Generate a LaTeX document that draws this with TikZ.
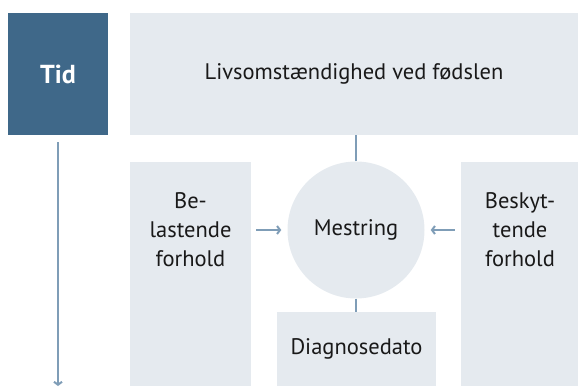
\documentclass[tikz,border=0pt]{standalone}
\usepackage{fontspec}
\setmainfont{PT Sans}
\usetikzlibrary{positioning, arrows.meta}

\definecolor{tidblue}{RGB}{63,104,137}
\definecolor{boxgray}{RGB}{229,234,239}
\definecolor{linkblue}{RGB}{127,157,183}

\begin{document}
\begin{tikzpicture}[
  x=1pt, y=-1pt,
  every node/.style={font=\fontsize{22.5}{29}\selectfont},
  panel/.style={fill=boxgray, draw=none, inner sep=0pt},
  txt/.style={align=center, text=black!90, inner sep=0pt},
  link/.style={draw=linkblue, line width=2pt},
  arr/.style={-{Straight Barb[length=3pt, width=8pt]}, draw=linkblue, line width=2pt}
]
\useasboundingbox (0,0) rectangle (578,387);

% ---- Time column ----
\node[fill=tidblue, minimum width=100pt, minimum height=122pt, inner sep=0pt,
      text=white, font=\fontsize{26}{30}\selectfont\bfseries] (tid) at (58,74) {Tid};
\coordinate (tidend) at (58,386);

% ---- Birth circumstances (top row) ----
\node[panel, txt, minimum width=448pt, minimum height=122pt] (birth) at (354,74)
  {Livsomstændighed ved fødslen};

% ---- Side panels ----
\node[panel, minimum width=121pt, minimum height=224pt] (belast) at (190.5,274) {};
\node[txt] (belastlbl) at (190.5,230) {Be-\\lastende\\forhold};
\node[panel, minimum width=117pt, minimum height=224pt] (beskyt) at (519.5,274) {};
\node[txt] (beskytlbl) at (520,230) {Beskyt-\\tende\\forhold};

% ---- Coping circle ----
\node[circle, fill=boxgray, minimum size=137pt, inner sep=0pt, txt] (mestring) at (356,230) {Mestring};

% ---- Diagnosis date ----
\node[panel, minimum width=159pt, minimum height=74pt, txt] (diag) at (356.5,349) {Diagnosedato};

% ---- Connectors ----
\draw[link] (mestring.north) -- (mestring.north |- birth.south);
\draw[link] (mestring.south) -- (mestring.south |- diag.north);
\draw[arr, shorten <=5pt, shorten >=6pt] (belast.east |- mestring.west) -- (mestring.west);
\draw[arr, shorten <=6pt, shorten >=6pt] (beskyt.west |- mestring.east) -- (mestring.east);
\draw[arr, shorten <=7pt] (tid.south -| tidend) -- (tidend);

\end{tikzpicture}
\end{document}
